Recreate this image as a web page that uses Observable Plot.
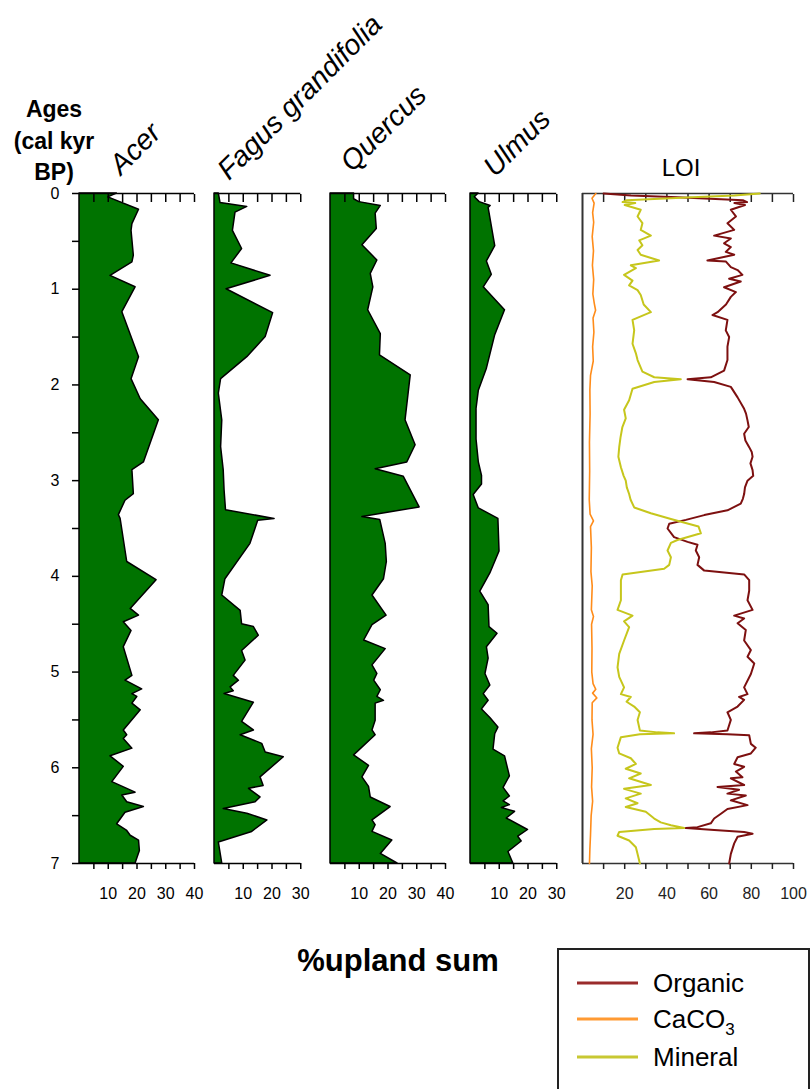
<!DOCTYPE html>
<html><head><meta charset="utf-8">
<script src="https://cdn.jsdelivr.net/npm/d3@7"></script>
<script src="https://cdn.jsdelivr.net/npm/@observablehq/plot@0.6"></script>
<style>
body{margin:0;background:#fff;overflow:hidden;font-family:Arial,"Liberation Sans",sans-serif;}
#root{position:relative;width:812px;height:1089px;overflow:hidden;}
.panel{position:absolute;}
#overlay{position:absolute;left:0;top:0;}
</style></head><body><div id="root"></div>
<script>
// ---------- DATA ----------
const taxa = ["Acer", "Fagus grandifolia", "Quercus", "Ulmus"];
const taxaMax = [40, 30, 40, 30];

const acerAge = [0,0.04,0.17,0.32,0.39,0.65,0.72,0.86,0.98,1.24,1.71,1.94,2.15,2.37,2.81,2.89,3.14,3.21,3.36,3.40,3.85,4.04,4.34,4.41,4.48,4.57,4.74,5.04,5.09,5.18,5.23,5.26,5.33,5.40,5.61,5.66,5.70,5.80,5.88,5.99,6.15,6.26,6.29,6.36,6.41,6.47,6.59,6.66,6.71,6.76,6.87,7.0];
const acerPct = [13,10,20.7,18.4,18.1,18.9,18.4,10.8,19.5,14.9,20.7,18.1,21.3,27.6,22.4,18.4,18.9,16.0,13.7,14.3,16.6,26.8,17.8,20.7,15.4,18.1,15.4,18.4,16.0,21.8,18.4,20.1,18.4,21.3,15.4,16.6,15.4,18.4,10.8,15.4,11.4,19.5,14.9,16.6,22.4,16.0,13.1,16.6,17.8,20.7,21.0,19.5];

const fagusAge = [0,0.10,0.14,0.20,0.39,0.58,0.73,0.86,1.00,1.25,1.50,1.71,1.94,2.09,2.37,2.65,2.89,3.10,3.31,3.40,3.42,3.66,4.03,4.20,4.36,4.50,4.53,4.62,4.78,4.88,5.04,5.09,5.16,5.20,5.23,5.32,5.52,5.61,5.66,5.75,5.84,5.89,6.10,6.19,6.22,6.31,6.36,6.43,6.48,6.55,6.67,6.78,7.0];
const fagusPct = [1.5,2.1,11.4,7.3,6.4,9.6,5.9,19.5,4.2,20.4,17.8,11.4,2.3,1.5,2.7,2.3,3.2,3.5,4.0,20.9,15.2,12.5,3.8,2.7,9.1,9.6,13.7,15.4,9.6,10.8,6.7,8.5,5.6,6.7,3.5,13.7,9.6,13.7,9.1,16.6,17.8,24.1,16.0,17.1,12.0,16.0,14.3,3.2,11.4,18.4,13.1,1.5,2.7];

const quercusAge = [0,0.06,0.09,0.13,0.21,0.37,0.54,0.70,0.84,0.98,1.22,1.47,1.69,1.90,2.37,2.63,2.81,2.88,2.96,3.28,3.38,3.41,3.66,3.85,4.03,4.20,4.41,4.51,4.67,4.76,4.93,5.02,5.09,5.19,5.26,5.30,5.33,5.51,5.61,5.66,5.87,5.98,6.10,6.20,6.31,6.41,6.55,6.60,6.67,6.76,6.90,7.0];
const quercusPct = [8.2,8.2,10.0,17.5,15.7,16.1,11.1,16.3,14.0,14.9,13.1,17.5,17.2,27.9,26.1,29.6,26.7,15.7,25.5,31.0,11.1,17.3,19.2,19.6,18.6,14.6,19.5,14.6,11.7,19.2,14.6,16.3,15.2,17.5,16.3,18.6,15.7,15.7,14.6,15.7,8.2,13.4,11.1,13.4,14.0,20.9,14.6,15.7,14.6,21.5,17.5,23.3];

const ulmusAge = [0,0.04,0.09,0.13,0.15,0.55,0.71,0.85,0.98,1.22,1.48,1.83,2.06,2.25,2.57,2.81,2.95,3.04,3.15,3.29,3.40,3.74,3.97,4.16,4.30,4.53,4.60,4.74,4.86,5.02,5.14,5.23,5.30,5.39,5.48,5.58,5.65,5.81,5.88,6.09,6.21,6.30,6.35,6.39,6.42,6.46,6.53,6.65,6.72,6.77,6.88,7.0];
const ulmusPct = [2.8,1.5,3.2,7.0,6.3,8.6,5.7,7.4,4.6,12.0,8.6,5.7,2.9,2.1,2.1,2.9,4.0,4.0,1.1,2.9,9.7,10.1,6.9,3.4,6.3,6.6,9.4,5.7,6.3,5.2,6.9,4.6,6.3,4.0,6.9,9.7,8.6,8.0,12.0,13.7,11.5,13.7,11.5,13.7,10.9,15.5,12.6,20.0,16.6,17.8,13.2,14.9];

const loiSeries = ["Organic", "CaCO3", "Mineral"];
const loiColors = ["#7d1010", "#ff8c1a", "#c6c61c"];

const organicAge = [0,0.02,0.04,0.07,0.09,0.10,0.12,0.17,0.24,0.31,0.38,0.44,0.47,0.52,0.56,0.61,0.64,0.70,0.71,0.77,0.80,0.85,0.89,0.92,0.98,1.03,1.08,1.16,1.24,1.27,1.32,1.43,1.50,1.60,1.74,1.85,1.92,1.94,1.97,2.02,2.13,2.25,2.30,2.37,2.44,2.51,2.58,2.65,2.70,2.75,2.82,2.89,2.95,3.00,3.07,3.14,3.19,3.24,3.31,3.36,3.41,3.45,3.50,3.59,3.64,3.67,3.73,3.80,3.88,3.94,3.98,4.04,4.15,4.25,4.35,4.41,4.44,4.49,4.56,4.67,4.77,4.84,4.91,5.02,5.16,5.23,5.26,5.29,5.36,5.42,5.50,5.61,5.63,5.64,5.65,5.66,5.75,5.79,5.85,5.89,5.96,5.99,6.04,6.10,6.11,6.18,6.20,6.23,6.27,6.29,6.34,6.39,6.43,6.48,6.53,6.58,6.62,6.63,6.65,6.67,6.69,6.72,6.79,6.90,7.0];
const organicPct = [10,23,45,76,78,72,77,70.3,72.7,68.7,71.9,62.4,70.3,67.1,70.3,67.9,71.9,59.2,67.9,70.3,73.5,75.8,69.5,75.0,67.1,72.7,70.3,68.0,64.0,61.6,68.7,67.9,69.5,68.7,68.7,67.1,60.8,49.8,62.4,70.3,73.5,76.6,77.5,78.2,78.8,76.6,77.2,79.0,80.2,80.6,79.6,80.6,80.9,78.2,77.0,76.6,76.0,75.0,68.7,57.7,49.0,41.1,40.3,43.4,49.8,54.5,53.7,55.3,54.5,57.7,76.6,79.0,79.0,78.2,80.6,71.9,76.6,73.5,77.4,76.6,79.8,78.2,81.4,79.8,76.6,78.2,74.2,76.6,73.5,68.7,70.3,68.7,60.8,52.9,68.7,79.0,79.8,82.1,79.8,73.5,71.9,76.6,72.7,75.8,70.3,76.6,64.0,74.2,68.7,77.4,70.3,78.2,68.7,65.6,62.4,60.8,54.5,49.0,62.4,76.6,80.6,73.5,71.9,70.3,69.5];

const mineralAge = [0,0.02,0.04,0.07,0.09,0.10,0.12,0.17,0.24,0.31,0.38,0.44,0.49,0.54,0.59,0.64,0.70,0.75,0.78,0.85,0.91,0.96,1.01,1.06,1.16,1.24,1.32,1.43,1.57,1.67,1.74,1.86,1.92,1.94,1.97,2.04,2.16,2.26,2.35,2.44,2.55,2.65,2.75,2.86,2.95,3.00,3.07,3.14,3.20,3.28,3.34,3.40,3.48,3.55,3.62,3.65,3.73,3.80,3.88,3.92,3.98,4.04,4.25,4.35,4.41,4.47,4.53,4.67,4.81,4.95,5.05,5.16,5.23,5.26,5.31,5.36,5.42,5.50,5.61,5.63,5.64,5.65,5.68,5.79,5.85,5.90,5.96,6.01,6.06,6.11,6.18,6.22,6.27,6.32,6.37,6.41,6.46,6.53,6.57,6.60,6.63,6.64,6.67,6.71,6.76,6.83,6.90,7.0];
const mineralPct = [84,72,52,21,19,25,20,27.6,26.1,28.4,27.6,32.4,26.9,28.4,26.1,27.6,36.3,22.9,25.3,19.7,23.7,22.1,26.1,27.6,29.0,32.4,23.7,24.5,23.7,25.3,26.1,28.4,34.0,46.6,34.0,23.7,22.1,19.7,20.5,18.9,18.0,17.4,17.0,18.2,19.5,20.5,21.0,22.1,22.8,24.5,32.4,41.9,55.0,56.1,45.0,41.9,40.3,41.9,41.1,38.7,19.0,18.2,18.2,16.6,23.7,19.7,22.1,19.7,17.4,16.6,17.4,19.7,18.2,22.9,20.9,24.5,27.2,26.1,27.2,35.5,43.4,27.2,18.2,16.6,17.4,22.9,25.3,20.5,27.6,22.1,32.4,19.7,27.6,20.5,26.1,20.5,30.0,34.0,37.1,41.9,48.2,34.0,17.4,16.6,22.1,25.3,26.1,27.2];

const caco3Age = [0,0.05,0.1,0.2,0.3,0.45,0.6,0.75,0.9,1.05,1.15,1.22,1.3,1.45,1.6,1.75,1.9,2.05,2.3,2.6,2.9,3.2,3.35,3.42,3.48,3.7,3.95,4.1,4.35,4.42,4.5,4.75,5.0,5.12,5.18,5.22,5.27,5.32,5.5,5.65,5.8,6.0,6.2,6.35,6.5,6.7,6.85,7.0];
const caco3Pct = [6.3,4.5,5.5,4.8,5.3,4.6,5.2,4.7,5.3,4.9,5.6,6.2,5.0,5.4,4.8,5.1,3.8,3.5,3.6,3.3,3.4,3.2,3.6,5.2,3.8,4.2,4.0,4.6,4.2,5.2,4.3,4.5,4.4,5.0,6.3,4.8,6.8,4.6,4.5,5.0,4.2,4.6,4.3,4.8,4.1,3.8,3.5,3.3];

const ageTicks = [0,0.5,1,1.5,2,2.5,3,3.5,4,4.5,5,5.5,6,6.5,7];

// ---------- LAYOUT ----------
const GREEN = "#007300";
const FRAME_TOP = 193, FRAME_H = 670;
const MT = 15, MB = 50;
const root = document.getElementById("root");
const zip = (a, v) => a.map((d, i) => ({age: d, v: v[i]}));
const FONT = "Arial, 'Liberation Sans', sans-serif";

function place(svg, left) {
  svg.classList.add("panel");
  svg.style.left = left + "px";
  svg.style.top = (FRAME_TOP - MT) + "px";
  root.appendChild(svg);
}

function taxonPanel(ages, vals, xmax, frameLeft, ageAxis) {
  const mL = ageAxis ? 70 : 20, mR = 20, px = 2.875;
  const ticks = d3.range(5, xmax + 1, 5);
  const marks = [
    Plot.areaX(zip(ages, vals), {y: "age", x1: 0, x2: "v", fill: GREEN, stroke: "black", strokeWidth: 1.5, strokeLinejoin: "round"}),
    Plot.ruleY([0, 7], {stroke: "black", strokeWidth: 1.5}),
    Plot.axisX({anchor: "bottom", ticks, tickSize: 6, tickPadding: 18, fontSize: 16, strokeWidth: 1.5, label: null,
      tickFormat: d => d % 10 === 0 ? String(d) : ""}),
    Plot.axisX({anchor: "top", ticks, tickSize: -8, strokeWidth: 1.5, label: null, tickFormat: () => ""})
  ];
  if (ageAxis) marks.push(Plot.axisY({anchor: "left", ticks: ageTicks, tickSize: 7, tickPadding: 13, fontSize: 16, strokeWidth: 1.5, label: null,
      tickFormat: d => Number.isInteger(d) ? String(d) : ""}));
  const svg = Plot.plot({
    width: mL + xmax * px + mR, height: FRAME_H + MT + MB,
    marginLeft: mL, marginRight: mR, marginTop: MT, marginBottom: MB,
    style: {fontFamily: FONT, fontSize: "16px", color: "black", background: "transparent", overflow: "visible"},
    x: {domain: [0, xmax], label: null},
    y: ageAxis ? {domain: [0, 7], reverse: true, label: null} : {domain: [0, 7], reverse: true, label: null, axis: null},
    marks
  });
  place(svg, frameLeft - mL);
}

taxonPanel(acerAge, acerPct, taxaMax[0], 79, true);
taxonPanel(fagusAge, fagusPct, taxaMax[1], 214, false);
taxonPanel(quercusAge, quercusPct, taxaMax[2], 329.5, false);
taxonPanel(ulmusAge, ulmusPct, taxaMax[3], 470, false);

// LOI panel
(function() {
  const mL = 20, mR = 20, px = 2.11, left = 582;
  const ticks = d3.range(10, 101, 10);
  const svg = Plot.plot({
    width: mL + 100 * px + mR, height: FRAME_H + MT + MB,
    marginLeft: mL, marginRight: mR, marginTop: MT, marginBottom: MB,
    style: {fontFamily: FONT, fontSize: "16px", color: "#222", background: "transparent", overflow: "visible"},
    x: {domain: [0, 100], label: null},
    y: {domain: [0, 7], reverse: true, label: null, axis: null},
    marks: [
      Plot.ruleX([0], {stroke: "#333", strokeWidth: 2}),
      Plot.ruleY([0, 7], {stroke: "#333", strokeWidth: 1.5}),
      Plot.axisX({anchor: "bottom", ticks, tickSize: 6, tickPadding: 18, fontSize: 16, strokeWidth: 1.5, label: null,
        tickFormat: d => d % 20 === 0 ? String(d) : ""}),
      Plot.axisX({anchor: "top", ticks, tickSize: -8, strokeWidth: 1.5, label: null, tickFormat: () => ""}),
      Plot.line(zip(organicAge, organicPct), {x: "v", y: "age", stroke: loiColors[0], strokeWidth: 2}),
      Plot.line(zip(caco3Age, caco3Pct), {x: "v", y: "age", stroke: loiColors[1], strokeWidth: 1.6}),
      Plot.line(zip(mineralAge, mineralPct), {x: "v", y: "age", stroke: loiColors[2], strokeWidth: 2})
    ]
  });
  place(svg, left - mL);
})();

// ---------- TEXT OVERLAY (titles, axis title, legend) ----------
const ov = d3.select(root).append("svg").attr("id", "overlay").attr("width", 812).attr("height", 1089)
  .style("font-family", FONT);

const titlePos = [[121, 176], [229, 181], [352, 173], [495, 178]];
taxa.forEach((t, i) => {
  const [x, y] = titlePos[i];
  ov.append("text").attr("x", x).attr("y", y).attr("transform", `rotate(-45 ${x} ${y})`)
    .attr("font-size", 28.5).attr("font-style", "italic").text(t);
});
ov.append("text").attr("x", 681).attr("y", 176).attr("text-anchor", "middle").attr("font-size", 24).text("LOI");

const ageTitle = ["Ages", "(cal kyr", "BP)"];
ageTitle.forEach((t, i) => {
  ov.append("text").attr("x", 54).attr("y", 117 + i * 31.5).attr("text-anchor", "middle")
    .attr("font-size", 23).attr("font-weight", "bold").text(t);
});
ov.append("text").attr("x", 398).attr("y", 971).attr("text-anchor", "middle")
  .attr("font-size", 31).attr("font-weight", "bold").text("%upland sum");

// legend
ov.append("rect").attr("x", 558).attr("y", 949).attr("width", 251).attr("height", 170)
  .attr("fill", "none").attr("stroke", "#222").attr("stroke-width", 2);
const legY = [983, 1019, 1057];
const legColors = ["#9a2b2b", "#ff9a33", "#c8c832"];
loiSeries.forEach((s, i) => {
  ov.append("line").attr("x1", 577).attr("x2", 638).attr("y1", legY[i]).attr("y2", legY[i])
    .attr("stroke", legColors[i]).attr("stroke-width", 3);
  const t = ov.append("text").attr("x", 653).attr("y", legY[i] + 9).attr("font-size", 26);
  if (s === "CaCO3") {
    t.append("tspan").text("CaCO");
    t.append("tspan").attr("font-size", 17).attr("dy", 7).text("3");
  } else t.text(s);
});
</script>
</body></html>
